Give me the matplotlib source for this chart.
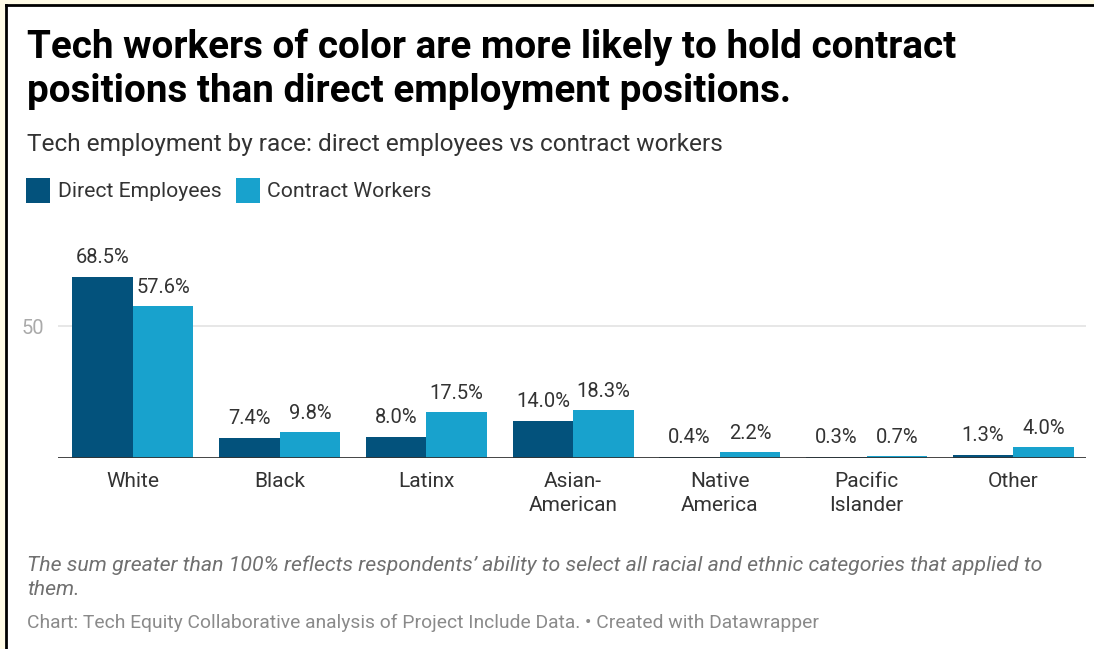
import matplotlib
matplotlib.use("Agg")
import matplotlib.pyplot as plt
import numpy as np
from matplotlib.patches import Rectangle

plt.rcParams["font.family"] = ["Roboto", "DejaVu Sans"]

# --- data ---
categories = ["White", "Black", "Latinx", "Asian-\nAmerican", "Native\nAmerica",
              "Pacific\nIslander", "Other"]
direct = [68.5, 7.4, 8.0, 14.0, 0.4, 0.3, 1.3]
contract = [57.6, 9.8, 17.5, 18.3, 2.2, 0.7, 4.0]
series_names = ["Direct Employees", "Contract Workers"]

C_DIRECT = "#03527c"
C_CONTRACT = "#18a2cd"

W, H = 1094, 649
fig = plt.figure(figsize=(W / 100, H / 100), dpi=100)

def fx(px):
    return px / W

def fy(py):
    return 1 - py / H

# frame: cream margin + black border on top and left
fig.patches.append(Rectangle((0, 0), 1, 1, transform=fig.transFigure,
                             facecolor="#fffbe6", edgecolor="none", zorder=-2))
fig.patches.append(Rectangle((fx(6), 0), 1, fy(5), transform=fig.transFigure,
                             facecolor="white", edgecolor="none", zorder=-1))
fig.add_artist(plt.Line2D([fx(6), 1], [fy(5), fy(5)], transform=fig.transFigure,
                          color="black", lw=2))
fig.add_artist(plt.Line2D([fx(6), fx(6)], [0, fy(5)], transform=fig.transFigure,
                          color="black", lw=2))

# --- titles ---
fig.text(fx(27), fy(58), "Tech workers of color are more likely to hold contract",
         fontsize=27.8, fontweight="bold", color="black", va="baseline")
fig.text(fx(27), fy(102), "positions than direct employment positions.",
         fontsize=27.8, fontweight="bold", color="black", va="baseline")
fig.text(fx(27), fy(151), "Tech employment by race: direct employees vs contract workers",
         fontsize=17.6, color="#333333", va="baseline")

# --- legend ---
for (x0, tx), name, col in zip([(26, 58), (236, 267)], series_names, [C_DIRECT, C_CONTRACT]):
    fig.patches.append(Rectangle((fx(x0), fy(203)), fx(24), 25 / H,
                                 transform=fig.transFigure, facecolor=col, edgecolor="none"))
    fig.text(fx(tx), fy(197), name, fontsize=15.2, color="#333333", va="baseline")

# --- axes ---
ax_top, ax_bot = 240, 458
ax = fig.add_axes([fx(58), fy(ax_bot), fx(1086 - 58), (ax_bot - ax_top) / H])
ax.set_zorder(2)
ymax = (ax_bot - ax_top) / 2.64
x = np.arange(len(categories))
bw = 0.4125
ax.bar(x - bw / 2, direct, bw, color=C_DIRECT, zorder=3)
ax.bar(x + bw / 2, contract, bw, color=C_CONTRACT, zorder=3)

for xi, d, c in zip(x, direct, contract):
    ax.annotate(f"{d:.1f}%", (xi - bw / 2, d), xytext=(0, 14), textcoords="offset pixels",
                ha="center", va="baseline", fontsize=14.5, color="#333333")
    ax.annotate(f"{c:.1f}%", (xi + bw / 2, c), xytext=(0, 13), textcoords="offset pixels",
                ha="center", va="baseline", fontsize=14.5, color="#333333")

ax.set_xlim(-0.511, 6.496)
ax.set_ylim(0, ymax)
ax.axhline(50, color="#e3e3e3", lw=1.2, zorder=1)
ax.axhline(0, color="#333333", lw=2, zorder=4)
for s in ax.spines.values():
    s.set_visible(False)
ax.set_yticks([50])
ax.set_yticklabels(["50"])
ax.tick_params(axis="y", length=0, pad=10, labelsize=14.5, labelcolor="#aaaaaa")
ax.set_xticks(x)
ax.set_xticklabels(categories, fontsize=15, color="#333333", linespacing=1.36)
ax.tick_params(axis="x", length=0, pad=10)
ax.patch.set_visible(False)

# --- notes ---
fig.text(fx(27), fy(571),
         "The sum greater than 100% reflects respondents\u2019 ability to select all racial and ethnic categories that applied to",
         fontsize=15.3, style="italic", color="#707070", va="baseline")
fig.text(fx(27), fy(595), "them.", fontsize=15.3, style="italic", color="#707070", va="baseline")
fig.text(fx(27), fy(628),
         "Chart: Tech Equity Collaborative analysis of Project Include Data. \u2022 Created with Datawrapper",
         fontsize=13.85, color="#8a8a8a", va="baseline")

fig.savefig("out.png", dpi=100)
